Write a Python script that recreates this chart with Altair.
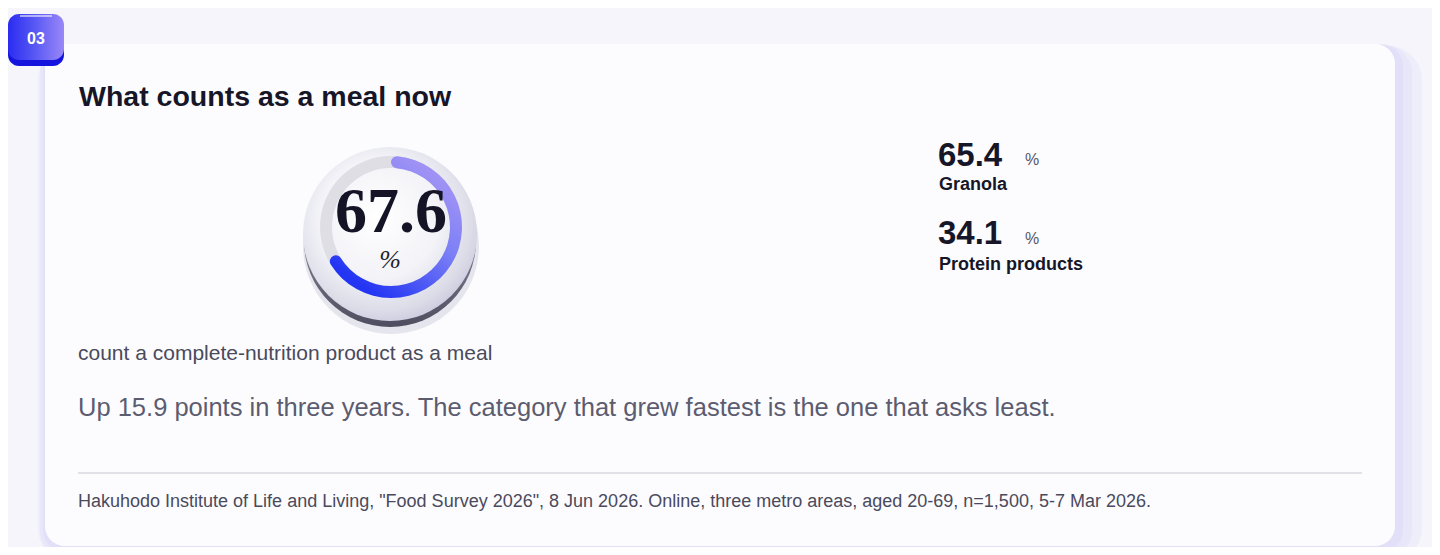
import altair as alt
import pandas as pd
import math

# ---------------- data ----------------
badge_label = ["03"]
title_text = ["What counts as a meal now"]
headline_share = [67.6]                      # % counting a complete-nutrition product as a meal
stat_values = [65.4, 34.1]                   # comparison categories (%)
stat_labels = ["Granola", "Protein products"]
caption_text = ["count a complete-nutrition product as a meal"]
insight_text = ["Up 15.9 points in three years. The category that grew fastest is the one that asks least."]
source_text = ['Hakuhodo Institute of Life and Living, "Food Survey 2026", 8 Jun 2026. Online, three metro areas, aged 20-69, n=1,500, 5-7 Mar 2026.']

# ---------------- layout helpers ----------------
W, H = 1424, 539
OX, OY = 8, 8
SANS = "Liberation Sans, Arial, Helvetica, sans-serif"
SERIF = "Liberation Serif, Times New Roman, serif"
TAU = 2 * math.pi

one = pd.DataFrame({"k": [0]})


def X(v):
    return v - OX


def Y(v):
    return v - OY


def grad_lin(stops, x1=0, y1=0, x2=1, y2=0):
    return {"gradient": "linear", "x1": x1, "y1": y1, "x2": x2, "y2": y2,
            "stops": [{"offset": o, "color": c} for o, c in stops]}


def grad_rad(stops, x1=0.5, y1=0.5, r1=0, x2=0.5, y2=0.5, r2=0.5):
    return {"gradient": "radial", "x1": x1, "y1": y1, "r1": r1, "x2": x2, "y2": y2, "r2": r2,
            "stops": [{"offset": o, "color": c} for o, c in stops]}


def rect(x1, y1, x2, y2, fill, r=0, opacity=1.0):
    return alt.Chart(one).mark_rect(cornerRadius=r, fill=fill, opacity=opacity).encode(
        x=alt.value(X(x1)), x2=alt.value(X(x2)), y=alt.value(Y(y1)), y2=alt.value(Y(y2)))


def disc(cx, cy, r, fill, r2=0, opacity=1.0):
    return alt.Chart(one).mark_arc(radius=r, radius2=r2, theta=0, theta2=TAU,
                                   fill=fill, opacity=opacity).encode(
        x=alt.value(X(cx)), y=alt.value(Y(cy)))


def text_layer(values, x, y, size, color, weight="normal", font=SANS, align="left"):
    df = pd.DataFrame({"t": values})
    return alt.Chart(df).mark_text(align=align, baseline="alphabetic", font=font,
                                   fontSize=size, fontWeight=weight, color=color).encode(
        text="t:N", x=alt.value(X(x)), y=alt.value(Y(y)))


layers = []

# card shadow + card
layers.append(rect(38, 46, 1422, 562, "#e2e0fa", r=34, opacity=0.35))
layers.append(rect(40, 45, 1412, 558, "#dedcf8", r=28, opacity=0.4))
layers.append(rect(43, 44, 1403, 552, "#dcdaf7", r=22, opacity=0.45))
layers.append(rect(45, 44, 1395, 546, "#fcfcfe", r=20))

# badge
layers.append(rect(8, 18, 64, 66, "#1414de", r=11))
layers.append(rect(8, 14, 64, 60, grad_lin([(0, "#2a2cf0"), (0.5, "#5a5af4"), (1, "#9a88f8")]), r=11))
layers.append(alt.Chart(one).mark_rule(color="#ffffff", opacity=0.55, strokeWidth=2).encode(
    x=alt.value(X(20)), x2=alt.value(X(52)), y=alt.value(Y(16))))
layers.append(text_layer(badge_label, 36, 44, 16, "#ffffff", weight="bold", align="center"))

# title
layers.append(text_layer(title_text, 79, 106, 28.5, "#161628", weight="bold"))

# donut disc (3D plate)
layers.append(disc(391, 246, 88, "#c9c9da", opacity=0.45))
layers.append(disc(390, 241, 86, grad_lin([(0, "#8a8a9a"), (1, "#4e4e60")], x1=0.5, y1=0.4, x2=0.5, y2=1)))
layers.append(disc(390, 234, 87, grad_rad([(0, "#ffffff"), (0.55, "#f3f3f8"), (0.85, "#dcdce8"), (1, "#c8c8de")],
                                          x1=0.42, y1=0.4, r1=0, x2=0.45, y2=0.42, r2=0.62)))

# ring track
layers.append(disc(391, 227, 71, "#dedee4", r2=59))

# data arc
share_df = pd.DataFrame({"share": headline_share})
layers.append(alt.Chart(share_df).mark_arc(
    radius=71, radius2=59, cornerRadius=6,
    fill=grad_lin([(0, "#a796f4"), (0.45, "#7b7ff6"), (1, "#2335f3")], x1=0.75, y1=0, x2=0.15, y2=0.85),
).encode(
    theta=alt.Theta("share:Q", stack=True, scale=alt.Scale(domain=[0, 100], range=[0, TAU])),
    x=alt.value(X(391)), y=alt.value(Y(227)),
))

# centre number
layers.append(alt.Chart(share_df).mark_text(
    align="center", baseline="alphabetic", font=SERIF, fontSize=64, fontWeight="bold", color="#141426"
).encode(text=alt.Text("share:Q", format=".1f"), x=alt.value(X(391)), y=alt.value(Y(232))))
layers.append(alt.Chart(one).mark_text(
    align="center", baseline="alphabetic", font=SERIF, fontSize=26, fontStyle="italic", color="#1e1e30", text="%"
).encode(x=alt.value(X(390)), y=alt.value(Y(268))))

# comparison stats
stats_df = pd.DataFrame({"label": stat_labels, "value": stat_values})
num_y = alt.Y("label:N", axis=None, scale=alt.Scale(type="point", padding=0, domain=stat_labels, range=[Y(166), Y(244)]))
pct_y = alt.Y("label:N", axis=None, scale=alt.Scale(type="point", padding=0, domain=stat_labels, range=[Y(165), Y(244)]))
lab_y = alt.Y("label:N", axis=None, scale=alt.Scale(type="point", padding=0, domain=stat_labels, range=[Y(190), Y(270)]))
stats_num = alt.Chart(stats_df).mark_text(
    align="left", baseline="alphabetic", font=SANS, fontSize=33, fontWeight="bold", color="#161628"
).encode(text=alt.Text("value:Q", format=".1f"), x=alt.value(X(938)), y=num_y)
stats_pct = alt.Chart(stats_df).mark_text(
    align="left", baseline="alphabetic", font=SANS, fontSize=16, color="#55556a", text="%"
).encode(x=alt.value(X(1025)), y=pct_y)
stats_lab = alt.Chart(stats_df).mark_text(
    align="left", baseline="alphabetic", font=SANS, fontSize=18, fontWeight="bold", color="#161628"
).encode(text="label:N", x=alt.value(X(939)), y=lab_y)

# caption, insight, rule, source
layers.append(text_layer(caption_text, 78, 360, 21, "#4a4a5c"))
layers.append(text_layer(insight_text, 78, 416, 25.5, "#5c5c70"))
layers.append(alt.Chart(one).mark_rule(color="#e1e1e7", strokeWidth=2).encode(
    x=alt.value(X(78)), x2=alt.value(X(1362)), y=alt.value(Y(473))))
layers.append(text_layer(source_text, 78, 507, 18, "#4a4a5c"))

chart = alt.layer(*layers, stats_num, stats_pct, stats_lab).resolve_scale(
    y="independent", x="independent", theta="independent"
).properties(
    width=W, height=H, padding=0, background="#f5f5fb",
    autosize=alt.AutoSizeParams(type="fit", contains="padding"),
).configure_view(stroke=None)

chart.save("out.html", embed_options={"renderer": "svg", "actions": False})
